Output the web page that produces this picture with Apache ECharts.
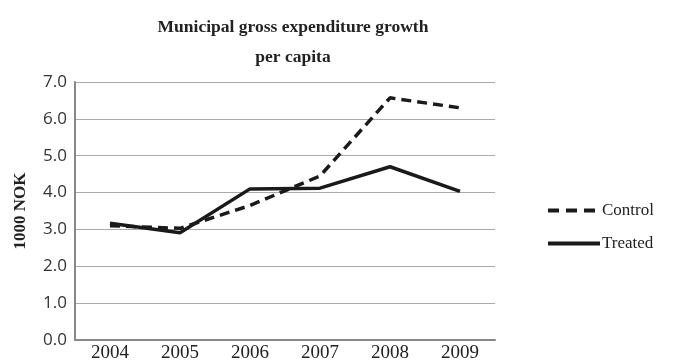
<!DOCTYPE html>
<html><head><meta charset="utf-8">
<script src="https://cdn.jsdelivr.net/npm/echarts@6/dist/echarts.min.js"></script>
<style>html,body{margin:0;padding:0;background:#fff}#c{width:675px;height:363px}</style>
</head><body><div id="c"></div>
<script>
const years = ['2004','2005','2006','2007','2008','2009'];
const control = [3.1, 3.03, 3.65, 4.45, 6.57, 6.3];
const treated = [3.17, 2.91, 4.1, 4.12, 4.7, 4.03];
const yTicks = [0,1,2,3,4,5,6,7];

const chart = echarts.init(document.getElementById('c'));
chart.setOption({
  animation:false,
  title:{text:'Municipal gross expenditure growth\nper capita', left:288, top:7, textAlign:'center',
    textStyle:{fontFamily:'Liberation Serif', fontWeight:'bold', fontSize:17.5, color:'#222', lineHeight:30}},
  grid:{left:75, right:180, top:82, bottom:21},
  legend:{orient:'vertical', left:543, top:197, itemGap:16, itemWidth:52, itemHeight:4,
    textStyle:{fontFamily:'Liberation Serif', fontSize:17, color:'#222', padding:[0,0,0,-3]},
    data:[
      {name:'Control', icon:'path://M0,0h11v4h-11z M18,0h11v4h-11z M36,0h11v4h-11z M52,0h0.01v4h-0.01z', itemStyle:{color:'#1a1a1a'}},
      {name:'Treated', icon:'path://M0,0h54v4h-54z', itemStyle:{color:'#1a1a1a'}}
    ]},
  xAxis:{type:'category', data:years, boundaryGap:true,
    axisLine:{lineStyle:{color:'#888', width:2}}, axisTick:{show:false},
    axisLabel:{fontFamily:'Liberation Serif', fontSize:19, color:'#222', margin:4}},
  yAxis:{type:'value', min:0, max:7, interval:1, name:'1000 NOK', nameLocation:'middle', nameGap:46,
    nameTextStyle:{fontFamily:'Liberation Serif', fontWeight:'bold', fontSize:17, color:'#222'},
    axisLine:{show:true, lineStyle:{color:'#888', width:2}}, axisTick:{show:false},
    axisLabel:{formatter:v=>v.toFixed(1), fontFamily:'Open Sans', fontSize:17, color:'#333', margin:8},
    splitLine:{lineStyle:{color:'#aaa', width:1}}},
  series:[
    {name:'Control', type:'line', data:control, symbol:'none', lineStyle:{color:'#1a1a1a', width:3.5, type:[10,6]}, itemStyle:{color:'#1a1a1a'}},
    {name:'Treated', type:'line', data:treated, symbol:'none', lineStyle:{color:'#1a1a1a', width:3.5}, itemStyle:{color:'#1a1a1a'}}
  ]
});
</script></body></html>
